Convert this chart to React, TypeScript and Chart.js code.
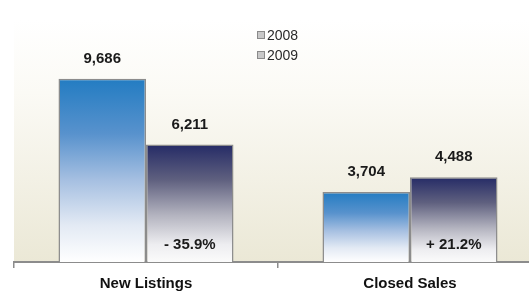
import React, { useEffect, useRef } from "react";
import { Chart, registerables } from "chart.js";

Chart.register(...registerables);

const categories = ["New Listings", "Closed Sales"];
const seriesLabels = ["2008", "2009"];
const values2008 = [9686, 3704];
const values2009 = [6211, 4488];
const changeLabels = ["- 35.9%", "+ 21.2%"];
const yMax = 12800;

const FONT = "'Liberation Sans', Arial, sans-serif";

function barGradient(ctx: any, stops: [number, string][], solid: string) {
  const chart = ctx.chart;
  if (!chart.chartArea || ctx.type !== "data") return solid;
  const ys = chart.scales.y;
  const top = ys.getPixelForValue(ctx.raw);
  const bottom = ys.getPixelForValue(0);
  const g = chart.ctx.createLinearGradient(0, top, 0, bottom);
  stops.forEach(([p, c]) => g.addColorStop(p, c));
  return g;
}

const blueStops: [number, string][] = [
  [0, "#237cc2"],
  [0.3, "#5892cd"],
  [0.55, "#a5bfe1"],
  [0.8, "#e3eaf4"],
  [1, "#ffffff"],
];
const navyStops: [number, string][] = [
  [0, "#252b66"],
  [0.3, "#5f607f"],
  [0.6, "#b3b3bf"],
  [0.85, "#ededf0"],
  [1, "#fbfbfb"],
];

const bgPlugin = {
  id: "plotBg",
  beforeDraw(chart: any) {
    const { ctx, chartArea: a } = chart;
    ctx.save();
    const g = ctx.createLinearGradient(0, a.top, 0, a.bottom);
    g.addColorStop(0, "#ffffff");
    g.addColorStop(0.3, "#fbfaf5");
    g.addColorStop(1, "#ebe8d6");
    ctx.fillStyle = g;
    ctx.fillRect(a.left, a.top, a.right - a.left, a.bottom - a.top);
    ctx.restore();
  },
};

const labelPlugin = {
  id: "valueLabels",
  afterDatasetsDraw(chart: any) {
    const { ctx } = chart;
    ctx.save();
    ctx.fillStyle = "#1a1a1a";
    ctx.textAlign = "center";
    ctx.textBaseline = "middle";
    ctx.font = `bold 15px ${FONT}`;
    chart.data.datasets.forEach((ds: any, di: number) => {
      const meta = chart.getDatasetMeta(di);
      meta.data.forEach((bar: any, i: number) => {
        const v = ds.data[i] as number;
        ctx.fillText(v.toLocaleString("en-US"), bar.x, bar.y - 20);
        if (di === 1) {
          ctx.fillText(changeLabels[i], bar.x, bar.base - 17);
        }
      });
    });
    // legend
    ctx.font = `14px ${FONT}`;
    ctx.textAlign = "left";
    seriesLabels.forEach((lab, i) => {
      const y = 35 + i * 20;
      ctx.fillStyle = "#c8c8c8";
      ctx.fillRect(257, y - 4, 8, 8);
      ctx.strokeStyle = "#8a8a8a";
      ctx.lineWidth = 1;
      ctx.strokeRect(257.5, y - 3.5, 7, 7);
      ctx.fillStyle = "#2a2a2a";
      ctx.fillText(lab, 267, y + 1);
    });
    ctx.restore();
  },
};

export default function App() {
  const ref = useRef<HTMLCanvasElement>(null);
  useEffect(() => {
    document.body.style.margin = "0";
    const chart = new Chart(ref.current!, {
      type: "bar",
      data: {
        labels: categories,
        datasets: [
          {
            label: seriesLabels[0],
            data: values2008,
            backgroundColor: (c: any) => barGradient(c, blueStops, "#237cc2"),
            borderColor: "#8c8c8c",
            borderWidth: 1.5,
            borderSkipped: "bottom",
          },
          {
            label: seriesLabels[1],
            data: values2009,
            backgroundColor: (c: any) => barGradient(c, navyStops, "#252b66"),
            borderColor: "#8c8c8c",
            borderWidth: 1.5,
            borderSkipped: "bottom",
          },
        ],
      },
      options: {
        responsive: false,
        animation: false,
        events: [],
        layout: { padding: { top: 20, left: 14, right: 0, bottom: 0 } },
        datasets: { bar: { categoryPercentage: 0.663, barPercentage: 1 } },
        plugins: { legend: { display: false }, tooltip: { enabled: false } },
        scales: {
          y: { display: false, min: 0, max: yMax },
          x: {
            afterFit: (scale: any) => {
              scale.height = 29;
            },
            grid: {
              display: true,
              offset: true,
              drawOnChartArea: false,
              tickLength: 6,
              color: "#8c8c8c",
              lineWidth: 1.5,
            },
            border: { color: "#8c8c8c", width: 2 },
            ticks: {
              color: "#111111",
              font: { family: FONT, size: 15, weight: "bold" },
              padding: 7,
            },
          },
        },
      },
      plugins: [bgPlugin, labelPlugin],
    });
    return () => chart.destroy();
  }, []);
  return (
    <div style={{ width: 529, height: 291, overflow: "hidden", background: "#ffffff" }}>
      <canvas ref={ref} width={542} height={291} style={{ display: "block" }} />
    </div>
  );
}
